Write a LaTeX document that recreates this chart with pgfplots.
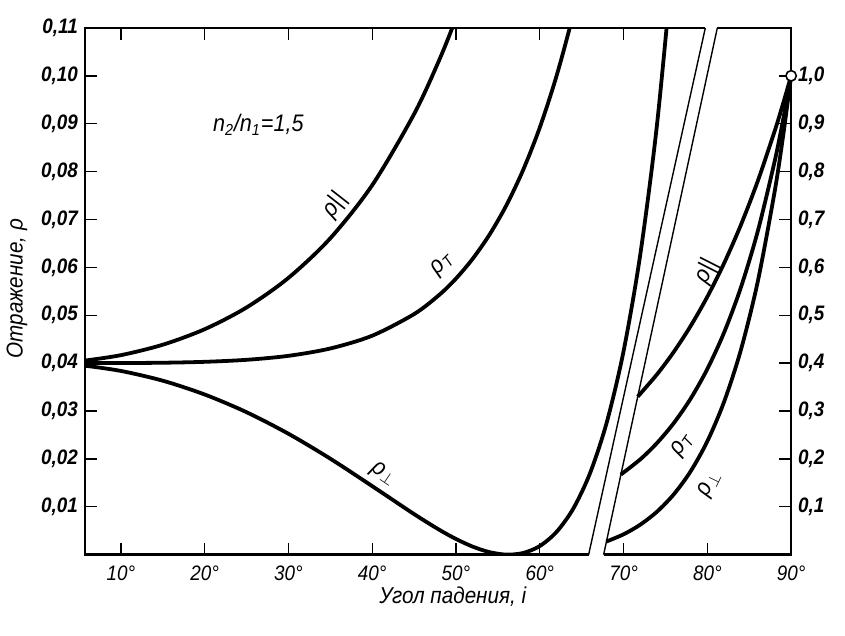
\documentclass[border=0pt]{standalone}
\usepackage{pgfplots}
\usepackage{pgfplotstable}
\pgfplotsset{compat=1.18}
\usepackage{fontspec}
\setmainfont{Liberation Sans}
\newfontfamily\gost[FakeStretch=0.9]{Liberation Sans}

% left scale (0 ... 0.11)
\pgfplotstableread{
x y
5.7 0.04053
10 0.04166
15 0.04384
20 0.04708
25 0.05162
30 0.05780
35 0.06608
40 0.07716
45 0.09202
48 0.10330
50 0.11205
52 0.12194
}\RparL
\pgfplotstableread{
x y
5.7 0.04000
10 0.04002
15 0.04008
20 0.04027
25 0.04069
30 0.04152
35 0.04306
40 0.04573
45 0.05024
48 0.05425
50 0.05766
52 0.06181
54 0.06683
56 0.07291
58 0.08028
60 0.08919
62 0.09997
64 0.11300
66 0.12878
}\RTL
\pgfplotstableread{
x y
5.7 0.03947
10 0.03837
15 0.03633
20 0.03345
25 0.02975
30 0.02525
35 0.02004
40 0.01431
45 0.00847
48 0.00520
50 0.00328
52 0.00167
54 0.00053
56 0.00001
58 0.00034
60 0.00180
62 0.00475
64 0.00962
66 0.01702
68 0.02766
70 0.04249
72 0.06273
74 0.08994
76 0.12614
}\RperpL
% right scale (0 ... 1.1)
\pgfplotstableread{
x y
71.69 0.3300
74 0.3767
76 0.4236
78 0.4773
80 0.5386
82 0.6086
84 0.6884
86 0.7793
88 0.8826
89 0.9395
90 1.0000
}\RparR
\pgfplotstableread{
x y
69.68 0.1673
72 0.1991
74 0.2333
76 0.2749
78 0.3256
80 0.3877
82 0.4639
84 0.5578
86 0.6741
88 0.8187
89 0.9042
90 1.0000
}\RTR
\pgfplotstableread{
x y
67.95 0.0274
70 0.0425
72 0.0627
74 0.0899
76 0.1261
78 0.1739
80 0.2368
82 0.3193
84 0.4273
86 0.5688
88 0.7548
89 0.8689
90 1.0000
}\RperpR

\newcommand{\lab}[1]{{\gost\fontsize{12}{14}\selectfont\itshape ρ#1}}

\begin{document}
\begin{tikzpicture}
\pgfplotsset{base/.style={
  scale only axis, width=354pt, height=264pt,
  xmin=5.7, xmax=90,
  at={(0,0)}, anchor=south west,
  separate axis lines, axis line style={draw=none},
  tick align=inside, major tick length=6pt,
  tick style={line width=0.7pt, black},
},
curve/.style={black, no markers, smooth, line width=1.9pt}}
\begin{axis}[base, ymin=0, ymax=0.11,
  xtick={10,20,30,40,50,60,70,80,90},
  xticklabels={10°,20°,30°,40°,50°,60°,70°,80°,90°},
  xtick pos=left,
  xticklabel style={font={\gost\fontsize{10.5}{12}\selectfont\itshape}, yshift=-2pt},
  ytick={0.01,0.02,0.03,0.04,0.05,0.06,0.07,0.08,0.09,0.10,0.11},
  yticklabels={{0,01},{0,02},{0,03},{0,04},{0,05},{0,06},{0,07},{0,08},{0,09},{0,10},{0,11}},
  ytick pos=left,
  yticklabel style={font={\gost\fontsize{10.5}{12}\selectfont\bfseries\itshape}},
  xlabel={Угол падения, \textit{i}},
  ylabel={Отражение, ρ},
  every axis x label/.style={at={(axis description cs:0.521,-0.0795)}, anchor=center,
     font={\gost\fontsize{11.5}{13}\selectfont\itshape}},
  every axis y label/.style={at={(axis description cs:-0.096,0.505)}, anchor=center, rotate=90,
     font={\gost\fontsize{11.5}{13}\selectfont\itshape}},
]
\addplot[curve] table {\RparL};
\addplot[curve] table {\RTL};
\addplot[curve] table {\RperpL};
\node at (axis cs:26.4,0.0898) {\gost\fontsize{12}{14}\selectfont\itshape n\textsubscript{2}/n\textsubscript{1}=1,5};
\node[rotate=52] at (axis cs:35.5,0.0730) {\lab{||}};
\node[rotate=45] at (axis cs:48.4,0.0606) {\lab{\textsubscript{T}}};
\node[rotate=-34] at (axis cs:41.4,0.0168) {\lab{\textsubscript{$\perp$}}};
\end{axis}

\begin{axis}[base, ymin=0, ymax=1.1, clip=false,
  xtick=\empty,
  ytick={0.1,0.2,0.3,0.4,0.5,0.6,0.7,0.8,0.9,1.0},
  yticklabels={{0,1},{0,2},{0,3},{0,4},{0,5},{0,6},{0,7},{0,8},{0,9},{1,0}},
  ytick pos=right, yticklabel pos=right,
  yticklabel style={font={\gost\fontsize{10.5}{12}\selectfont\bfseries\itshape}},
]
\addplot[curve] table {\RparR};
\addplot[curve] table {\RTR};
\addplot[curve] table {\RperpR};
% frame with break
\draw[line width=1.2pt, line join=miter] (axis cs:79.76,1.1) -- (axis cs:5.7,1.1) -- (axis cs:5.7,0) -- (axis cs:65.83,0);
\draw[line width=1.2pt, line join=miter] (axis cs:81.19,1.1) -- (axis cs:90,1.1) -- (axis cs:90,0) -- (axis cs:67.62,0);
\draw[line width=0.7pt] (axis cs:65.83,0) -- (axis cs:79.76,1.1);
\draw[line width=0.7pt] (axis cs:67.62,0) -- (axis cs:81.19,1.1);
\pgfplotsinvokeforeach{10,20,30,40,50,60,70}{\draw[line width=0.7pt] (axis cs:#1,1.1) -- (axis cs:#1,1.075);}
\addplot[only marks, mark=*, mark size=2.6pt, black,
  mark options={fill=white, draw=black, line width=0.8pt, solid}] coordinates {(90,1.0)};
\node[rotate=63] at (axis cs:79.9,0.592) {\lab{||}};
\node[rotate=55] at (axis cs:77.1,0.228) {\lab{\textsubscript{T}}};
\node[rotate=64] at (axis cs:80.3,0.147) {\lab{\textsubscript{$\perp$}}};
\end{axis}
\path[use as bounding box] (-41.5pt,-40.5pt) rectangle (381pt,278pt);
\end{tikzpicture}
\end{document}
